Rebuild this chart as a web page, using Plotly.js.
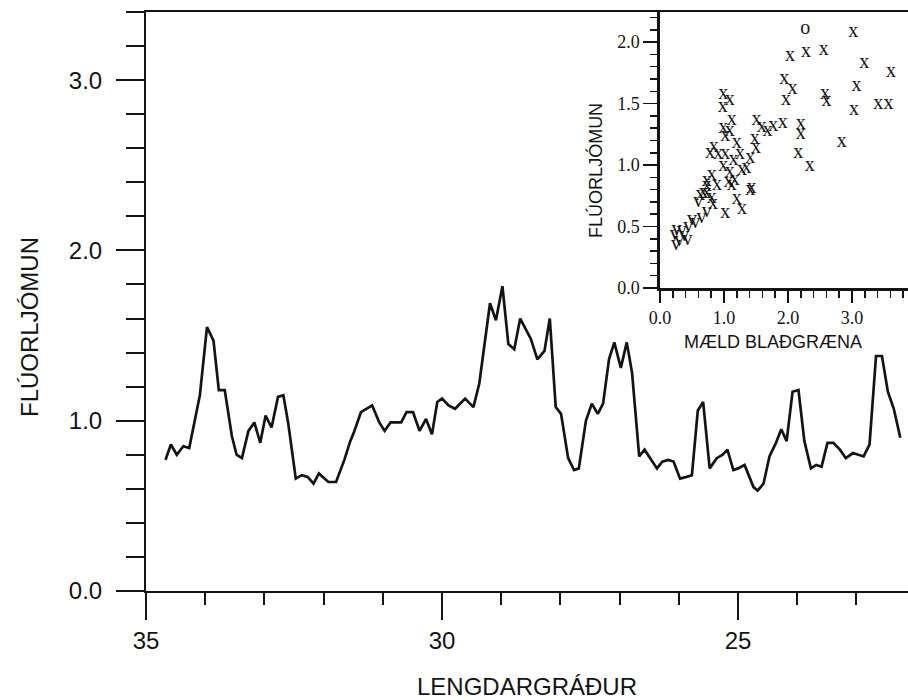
<!DOCTYPE html>
<html>
<head>
<meta charset="utf-8">
<script src="https://cdn.plot.ly/plotly-3.0.1.min.js"></script>
<style>html,body{margin:0;padding:0;background:#fff;}#chart{width:908px;height:700px;}</style>
</head>
<body>
<div id="chart"></div>
<script>
// Main transect: longitude (degrees W) vs fluorescence
const lon = [34.67,34.58,34.48,34.37,34.27,34.09,33.97,33.86,33.77,33.67,
  33.55,33.47,33.38,33.27,33.17,33.07,32.98,32.88,32.77,32.68,
  32.60,32.47,32.37,32.27,32.17,32.08,31.92,31.79,31.65,31.55,
  31.49,31.37,31.18,31.06,30.97,30.87,30.69,30.60,30.49,30.38,
  30.27,30.17,30.08,30.00,29.89,29.78,29.61,29.47,29.37,29.19,
  29.09,28.98,28.88,28.78,28.68,28.50,28.39,28.27,28.18,28.08,
  27.99,27.87,27.77,27.69,27.57,27.47,27.37,27.28,27.18,27.09,
  26.98,26.88,26.79,26.67,26.58,26.49,26.37,26.28,26.18,26.09,
  25.98,25.87,25.78,25.68,25.59,25.48,25.36,25.26,25.18,25.08,
  25.00,24.89,24.74,24.67,24.57,24.47,24.36,24.27,24.18,24.08,
  23.98,23.88,23.77,23.68,23.59,23.49,23.39,23.28,23.18,23.06,
  22.98,22.88,22.78,22.67,22.57,22.47,22.37,22.26];
const fluor = [0.77,0.86,0.80,0.85,0.84,1.15,1.55,1.47,1.18,1.18,
  0.91,0.80,0.78,0.94,0.99,0.87,1.03,0.96,1.14,1.15,
  0.99,0.66,0.68,0.67,0.63,0.69,0.64,0.64,0.77,0.88,
  0.93,1.05,1.09,0.99,0.94,0.99,0.99,1.05,1.05,0.94,
  1.01,0.92,1.11,1.13,1.09,1.07,1.13,1.08,1.22,1.69,
  1.59,1.79,1.45,1.42,1.60,1.48,1.36,1.41,1.60,1.08,
  1.04,0.78,0.71,0.72,1.00,1.10,1.04,1.10,1.36,1.46,
  1.31,1.46,1.28,0.79,0.83,0.78,0.72,0.76,0.77,0.76,
  0.66,0.67,0.68,1.06,1.11,0.72,0.78,0.80,0.83,0.71,
  0.72,0.74,0.61,0.59,0.63,0.79,0.87,0.95,0.88,1.17,
  1.18,0.88,0.72,0.74,0.73,0.87,0.87,0.83,0.78,0.81,
  0.80,0.79,0.86,1.38,1.38,1.17,1.07,0.90];

// Inset: measured chlorophyll vs fluorescence ("x" samples)
const chlX = [3.02,2.03,2.28,2.56,3.19,3.61,1.94,2.07,1.97,3.07,
  2.58,2.60,3.03,3.41,3.57,2.84,2.20,2.20,2.16,2.34,
  1.92,1.77,1.68,1.59,1.51,1.48,1.50,1.41,1.35,1.43,
  0.99,1.09,0.98,1.12,0.99,1.09,1.02,1.20,0.84,0.78,
  0.91,1.02,1.25,1.15,0.99,1.09,1.28,0.81,0.73,1.17,
  1.07,0.89,0.68,0.73,1.12,1.41,0.63,0.81,1.02,1.28,
  0.83,0.73,1.20];
const fluX = [2.08,1.89,1.92,1.94,1.83,1.76,1.70,1.62,1.53,1.64,
  1.58,1.52,1.45,1.50,1.50,1.19,1.33,1.25,1.10,0.99,
  1.34,1.32,1.28,1.31,1.37,1.21,1.14,1.06,0.98,0.81,
  1.58,1.53,1.47,1.37,1.30,1.28,1.24,1.18,1.15,1.10,
  1.09,1.09,1.09,1.04,0.99,0.94,0.96,0.92,0.87,0.88,
  0.86,0.84,0.77,0.83,0.84,0.80,0.76,0.73,0.61,0.64,
  0.68,0.77,0.72];
// "v" samples
const chlV = [0.73,0.65,0.55,0.44,0.34,0.26,0.43,0.25,0.23,0.60,0.50,0.38,0.30];
const fluV = [0.62,0.57,0.53,0.50,0.46,0.47,0.39,0.35,0.43,0.70,0.55,0.42,0.38];
// "o" sample
const chlO = [2.27];
const fluO = [2.11];

// Axis titles
const mainXTitle = 'LENGDARGRÁÐUR';
const mainYTitle = 'FLÚORLJÓMUN';
const insetXTitle = 'MÆLD BLAÐGRÆNA';
const insetYTitle = 'FLÚORLJÓMUN';

const ink = '#141414';
const sans = 'Liberation Sans, Arial, Helvetica, sans-serif';
const serif = 'Liberation Serif, Times New Roman, serif';

const traces = [
  {x: lon, y: fluor, type: 'scatter', mode: 'lines', xaxis: 'x', yaxis: 'y',
   line: {color: ink, width: 2.7}, hoverinfo: 'skip'},
  {x: chlX, y: fluX, type: 'scatter', mode: 'text', xaxis: 'x2', yaxis: 'y2',
   text: chlX.map(() => 'x'), textposition: 'middle center',
   textfont: {family: serif, size: 20, color: ink}, hoverinfo: 'skip'},
  {x: chlV, y: fluV, type: 'scatter', mode: 'text', xaxis: 'x2', yaxis: 'y2',
   text: chlV.map(() => 'v'), textposition: 'middle center',
   textfont: {family: serif, size: 20, color: ink}, hoverinfo: 'skip'},
  {x: chlO, y: fluO, type: 'scatter', mode: 'text', xaxis: 'x2', yaxis: 'y2',
   text: chlO.map(() => 'o'), textposition: 'middle center',
   textfont: {family: serif, size: 20, color: ink}, hoverinfo: 'skip'}
];

const layout = {
  width: 908, height: 700,
  margin: {l: 146, r: 0, t: 12, b: 109, pad: 0},
  paper_bgcolor: '#ffffff', plot_bgcolor: '#ffffff',
  showlegend: false,
  font: {family: sans, color: ink},
  xaxis: {
    domain: [0, 1], anchor: 'y',
    range: [35, 22.13], tickmode: 'linear', tick0: 35, dtick: 5,
    ticks: 'outside', ticklen: 27, tickwidth: 2, tickcolor: ink,
    showline: true, linewidth: 2, linecolor: ink, mirror: true,
    showgrid: false, zeroline: false,
    tickfont: {family: sans, size: 24, color: ink},
    minor: {tick0: 35, dtick: 1, ticks: 'outside', ticklen: 12, tickwidth: 2, tickcolor: ink, showgrid: false},
    title: {text: mainXTitle, font: {family: sans, size: 24, color: ink}, standoff: 27}
  },
  yaxis: {
    domain: [0, 1], anchor: 'x',
    range: [0, 3.4], tickmode: 'linear', tick0: 0, dtick: 1, tickformat: '.1f',
    ticks: 'outside', ticklen: 28, tickwidth: 2, tickcolor: ink,
    showline: true, linewidth: 2, linecolor: ink,
    showgrid: false, zeroline: false, ticklabelstandoff: 9,
    tickfont: {family: sans, size: 24, color: ink},
    minor: {tick0: 0, dtick: 0.2, ticks: 'outside', ticklen: 18, tickwidth: 2, tickcolor: ink, showgrid: false}
  },
  xaxis2: {
    domain: [0.6745, 1], anchor: 'y2',
    range: [0, 3.875], tickmode: 'linear', tick0: 0, dtick: 1, tickformat: '.1f',
    ticks: 'outside', ticklen: 12, tickwidth: 1.5, tickcolor: ink,
    showline: true, linewidth: 2.5, linecolor: ink,
    showgrid: false, zeroline: false,
    tickfont: {family: serif, size: 18, color: ink},
    minor: {tick0: 0, dtick: 0.2, ticks: 'outside', ticklen: 7, tickwidth: 1.5, tickcolor: ink, showgrid: false}
  },
  yaxis2: {
    domain: [0.5233, 1], anchor: 'x2',
    range: [0, 2.245], tickmode: 'linear', tick0: 0, dtick: 0.5, tickformat: '.1f',
    ticks: 'outside', ticklen: 14, tickwidth: 1.5, tickcolor: ink,
    showline: true, linewidth: 2.5, linecolor: ink,
    showgrid: false, zeroline: false,
    tickfont: {family: serif, size: 18, color: ink},
    minor: {tick0: 0, dtick: 0.1, ticks: 'outside', ticklen: 7, tickwidth: 1.5, tickcolor: ink, showgrid: false}
  },
  annotations: [
    {text: mainYTitle, xref: 'paper', yref: 'paper', x: -0.1522, y: 0.456,
     textangle: -90, showarrow: false, xanchor: 'center', yanchor: 'middle',
     font: {family: sans, size: 24, color: ink}},
    {text: insetYTitle, xref: 'paper', yref: 'paper', x: 0.589, y: 0.727,
     textangle: -90, showarrow: false, xanchor: 'center', yanchor: 'middle',
     font: {family: sans, size: 18, color: ink}},
    {text: insetXTitle, xref: 'paper', yref: 'paper', x: 0.8228, y: 0.430,
     showarrow: false, xanchor: 'center', yanchor: 'middle',
     font: {family: sans, size: 18, color: ink}}
  ]
};

Plotly.newPlot('chart', traces, layout, {staticPlot: true, displayModeBar: false});
</script>
</body>
</html>
